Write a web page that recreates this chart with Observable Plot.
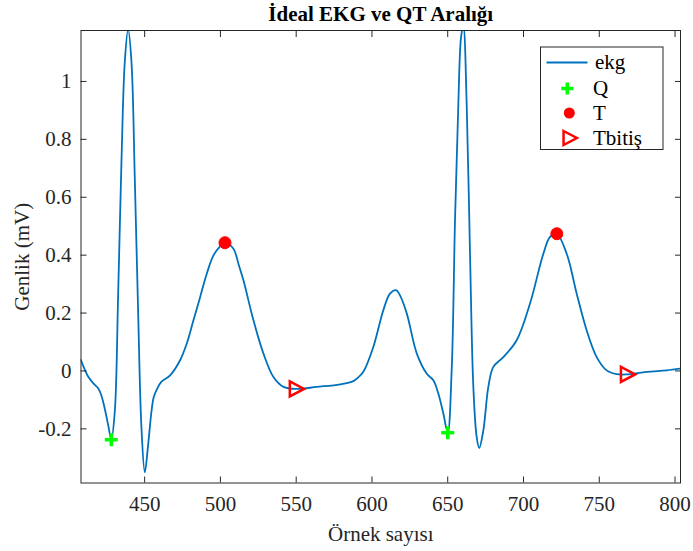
<!DOCTYPE html>
<html><head><meta charset="utf-8">
<script src="https://cdn.jsdelivr.net/npm/d3@7"></script>
<script src="https://cdn.jsdelivr.net/npm/@observablehq/plot@0.6"></script>
<style>
body{margin:0;background:#fff}
#chart svg{font-family:"Times New Roman","Liberation Serif",serif;overflow:visible}
</style>
</head><body><div id="chart"></div>
<script>
// ---- data ----
const samples = [407.9,410.5,412.7,416,419.3,421,422.6,424.3,425.9,428,430.3,432.5,434.7,436.9,439.1,441.3,443.5,445.7,447.9,450.1,452.3,454.5,456,457.8,461.1,466.8,473.4,477.8,482.2,486.6,491.0,495.4,499.8,503.1,508.6,512,515.2,521.8,528.4,535.0,541.6,550.4,563.6,579.0,587.7,591,594.3,600.9,607.5,611.9,615.9,618.5,623.0,629.6,636.1,640.5,643.8,647.1,650.0,652.6,654.8,657.0,658.8,660.3,662.5,664.7,666.9,669.1,670.8,673.5,676.8,680.1,686.7,695.5,704.3,713.1,717.5,721.9,728.5,735.1,741.7,748.3,754.9,761.5,768.1,781.3,794.5,803.6];
const ekg = [0.038,0.005,-0.019,-0.042,-0.060,-0.078,-0.106,-0.145,-0.186,-0.236,-0.14,0.262,0.723,1.068,1.18,1.068,0.665,0.205,-0.198,-0.350,-0.255,-0.140,-0.090,-0.066,-0.037,-0.015,0.037,0.095,0.175,0.255,0.336,0.399,0.430,0.443,0.422,0.368,0.313,0.175,0.060,-0.021,-0.055,-0.062,-0.055,-0.046,-0.035,-0.022,-0.003,0.083,0.21,0.267,0.279,0.261,0.198,0.060,-0.009,-0.032,-0.078,-0.147,-0.212,0.002,0.52,0.923,1.153,1.19,0.923,0.405,-0.055,-0.228,-0.266,-0.205,-0.055,0.014,0.048,0.106,0.233,0.405,0.463,0.474,0.405,0.267,0.140,0.048,0.002,-0.011,-0.012,-0.003,0.002,0.008];
const qSamples = [428, 650];
const qValues = [-0.238, -0.213];
const tSamples = [503, 722];
const tValues = [0.443, 0.474];
const tendSamples = [550, 768.5];
const tendValues = [-0.062, -0.012];
const xTicks = [450, 500, 550, 600, 650, 700, 750, 800];
const yTicks = [-0.2, 0, 0.2, 0.4, 0.6, 0.8, 1];
const seriesNames = ["ekg", "Q", "T", "Tbitiş"];
const titleText = "İdeal EKG ve QT Aralığı";
const xLabel = "Örnek sayısı";
const yLabel = "Genlik (mV)";

// ---- build tables ----
const line = samples.map((s, i) => ({s, v: ekg[i]}));
const qPts = qSamples.map((s, i) => ({s, v: qValues[i]}));
const tPts = tSamples.map((s, i) => ({s, v: tValues[i]}));
const tePts = tendSamples.map((s, i) => ({s, v: tendValues[i]}));

const blue = "#0072BD", green = "#00FF00", red = "#FF0000", axisCol = "#262626";
const font = '"Times New Roman","Liberation Serif",serif';

const triRight = {draw(ctx, size) { const r = Math.sqrt(size / Math.PI);
  ctx.moveTo(-0.85 * r, -r); ctx.lineTo(1.05 * r, 0); ctx.lineTo(-0.85 * r, r); ctx.closePath(); }};
const plusSym = {draw(ctx, size) { const r = Math.sqrt(size / Math.PI);
  ctx.moveTo(-r, 0); ctx.lineTo(r, 0); ctx.moveTo(0, -r); ctx.lineTo(0, r); }};
const fmt = d => String(+d.toFixed(1));

const chart = Plot.plot({
  width: 693, height: 551,
  marginLeft: 80.5, marginRight: 13, marginTop: 30, marginBottom: 68.5,
  x: {domain: [408, 803.6]},
  y: {domain: [-0.387, 1.176]},
  style: {fontFamily: font, fontSize: "21px", color: axisCol, background: "#fff"},
  marks: [
    Plot.line(line, {x: "s", y: "v", stroke: blue, strokeWidth: 1.8, curve: "catmull-rom", clip: true}),
    Plot.dot(qPts, {x: "s", y: "v", symbol: plusSym, r: 6.5, stroke: green, strokeWidth: 3.5, fill: "none"}),
    Plot.dot(tPts, {x: "s", y: "v", r: 6, fill: red, stroke: red, strokeWidth: 1}),
    Plot.dot(tePts, {x: "s", y: "v", symbol: triRight, r: 7.5, stroke: red, strokeWidth: 2.5, fill: "none"}),
    Plot.frame({stroke: axisCol, strokeWidth: 1}),
    Plot.axisX(xTicks, {anchor: "bottom", tickSize: -6, tickPadding: 19, tickFormat: d => String(d), label: null, fontSize: 21, stroke: axisCol}),
    Plot.axisX(xTicks, {anchor: "top", tickSize: -6, tickFormat: () => "", label: null, stroke: axisCol}),
    Plot.axisY(yTicks, {anchor: "left", tickSize: -6, tickPadding: 15.5, tickFormat: fmt, label: null, fontSize: 21, stroke: axisCol}),
    Plot.axisY(yTicks, {anchor: "right", tickSize: -6, tickFormat: () => "", label: null, stroke: axisCol}),
    Plot.text([titleText], {text: d => d, frameAnchor: "top", dy: -16, lineAnchor: "middle", textAnchor: "middle", fontWeight: "bold", fontSize: 21, fill: "#000"}),
    Plot.text([xLabel], {text: d => d, frameAnchor: "bottom", dy: 51, lineAnchor: "middle", textAnchor: "middle", fontSize: 21, fill: axisCol}),
    Plot.text([yLabel], {text: d => d, frameAnchor: "left", dx: -58.5, rotate: -90, lineAnchor: "middle", textAnchor: "middle", fontSize: 21, fill: axisCol})
  ]
});
document.getElementById("chart").appendChild(chart);

// ---- legend ----
const svg = d3.select(chart);
const lg = svg.append("g").attr("font-family", font).attr("font-size", 21).attr("text-anchor", "start");
lg.append("rect").attr("x", 540.5).attr("y", 47).attr("width", 122.5).attr("height", 102.5)
  .attr("fill", "#fff").attr("stroke", axisCol).attr("stroke-width", 1);
const rowsY = [62.5, 88.5, 113, 138];
lg.append("line").attr("x1", 546.5).attr("x2", 587.5).attr("y1", rowsY[0]).attr("y2", rowsY[0])
  .attr("stroke", blue).attr("stroke-width", 1.8);
lg.append("path").attr("d", (() => { const p = d3.path(); plusSym.draw(p, Math.PI * 6 * 6); return p.toString(); })())
  .attr("transform", `translate(567.3,${rowsY[1]})`).attr("stroke", green).attr("stroke-width", 3.5).attr("fill", "none");
lg.append("circle").attr("cx", 569.3).attr("cy", rowsY[2]).attr("r", 5.5).attr("fill", red);
lg.append("path").attr("d", (() => { const p = d3.path(); triRight.draw(p, Math.PI * 7 * 7); return p.toString(); })())
  .attr("transform", `translate(569.5,${rowsY[3]})`).attr("stroke", red).attr("stroke-width", 2.5).attr("fill", "none");
seriesNames.forEach((name, i) => {
  lg.append("text").attr("x", i === 0 ? 595 : 593).attr("y", rowsY[i]).attr("dy", "0.32em")
    .attr("text-anchor", "start").attr("fill", "#000").text(name);
});
</script>
</body></html>
